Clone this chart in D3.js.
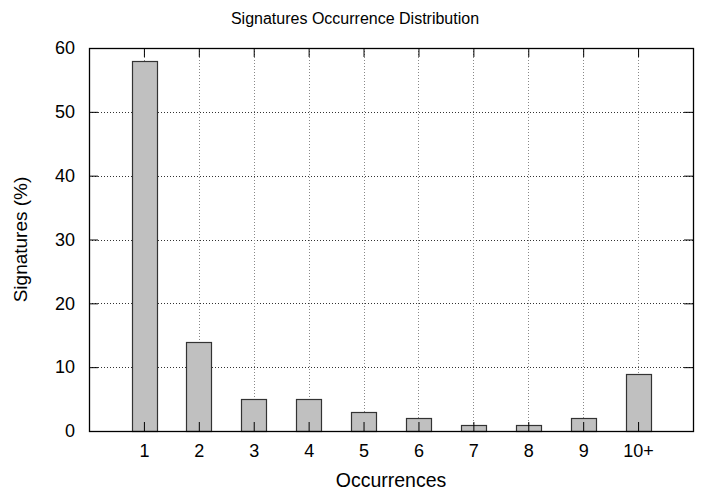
<!DOCTYPE html>
<html>
<head>
<meta charset="utf-8">
<script src="https://cdn.jsdelivr.net/npm/d3@7"></script>
<style>
  body { margin: 0; background: #fff; }
  text { font-family: "Liberation Sans", Arial, sans-serif; fill: #000; }
</style>
</head>
<body>
<div id="chart"></div>
<script>
// Data
var categories = ["1", "2", "3", "4", "5", "6", "7", "8", "9", "10+"];
var percents = [58, 14, 5, 5, 3, 2, 1, 1, 2, 9];
var yTicks = [0, 10, 20, 30, 40, 50, 60];

var svgWidth = 710;
var svgHeight = 491;

// Plot area
var m = { top: 48, right: 17, bottom: 60, left: 89 };
var cW = svgWidth - m.left - m.right;
var cH = svgHeight - m.top - m.bottom;

var svg = d3.select("#chart").append("svg")
  .attr("width", svgWidth)
  .attr("height", svgHeight);

var g = svg.append("g")
  .attr("transform", `translate(${m.left}, ${m.top})`);

// x positions are 1..10, domain padded by one slot each side
var xScale = d3.scaleLinear().domain([0, categories.length + 1]).range([0, cW]);
var yScale = d3.scaleLinear().domain([0, 60]).range([cH, 0]);
var barW = xScale(0.45) - xScale(0);

// Grid lines
g.selectAll(".hgrid")
  .data(yTicks.slice(1, -1)).enter()
  .append("line")
  .attr("x1", 0).attr("x2", cW)
  .attr("y1", d => Math.round(yScale(d)) + 0.5).attr("y2", d => Math.round(yScale(d)) + 0.5)
  .attr("stroke", "#333")
  .attr("stroke-width", 1)
  .attr("stroke-dasharray", "1,2");

g.selectAll(".vgrid")
  .data(categories).enter()
  .append("line")
  .attr("x1", (d, i) => Math.round(xScale(i + 1)) + 0.5)
  .attr("x2", (d, i) => Math.round(xScale(i + 1)) + 0.5)
  .attr("y1", 0).attr("y2", cH)
  .attr("stroke", "#888")
  .attr("stroke-width", 1)
  .attr("stroke-dasharray", "1,2");

// Bars
g.selectAll("rect.bar")
  .data(percents).enter()
  .append("rect")
  .attr("class", "bar")
  .attr("x", (d, i) => Math.round(xScale(i + 1) - barW / 2) + 0.5)
  .attr("y", d => Math.round(yScale(d)) + 0.5)
  .attr("width", Math.round(barW))
  .attr("height", d => cH - Math.round(yScale(d)))
  .attr("fill", "#c0c0c0")
  .attr("stroke", "#333")
  .attr("stroke-width", 1.2);

// Axes (ticks drawn inward, mirrored)
var tickPos = categories.map((d, i) => i + 1);

var leftAxis = d3.axisLeft(yScale).tickValues(yTicks).tickSize(-9).tickPadding(14);
var gl = g.append("g").call(leftAxis);
gl.select(".domain").remove();
gl.selectAll("text").style("font-size", "18px");

var rightAxis = d3.axisRight(yScale).tickValues(yTicks).tickSize(-9).tickFormat("");
var gr = g.append("g").attr("transform", `translate(${cW}, 0)`).call(rightAxis);
gr.select(".domain").remove();

var bottomAxis = d3.axisBottom(xScale).tickValues(tickPos).tickSize(-9).tickPadding(13)
  .tickFormat(d => categories[d - 1]);
var gb = g.append("g").attr("transform", `translate(0, ${cH})`).call(bottomAxis);
gb.select(".domain").remove();
gb.selectAll("text").style("font-size", "18px");

var topAxis = d3.axisTop(xScale).tickValues(tickPos).tickSize(-9).tickFormat("");
var gt = g.append("g").call(topAxis);
gt.select(".domain").remove();

// Border
g.append("rect")
  .attr("x", 0.5).attr("y", 0.5)
  .attr("width", cW).attr("height", cH)
  .attr("fill", "none")
  .attr("stroke", "#000")
  .attr("stroke-width", 1.3);

// Labels
svg.append("text")
  .attr("x", 355).attr("y", 24)
  .attr("text-anchor", "middle")
  .style("font-size", "16px")
  .text("Signatures Occurrence Distribution");

svg.append("text")
  .attr("x", m.left + cW / 2).attr("y", 487)
  .attr("text-anchor", "middle")
  .style("font-size", "19.5px")
  .text("Occurrences");

svg.append("text")
  .attr("transform", `translate(27, ${m.top + cH / 2}) rotate(-90)`)
  .attr("text-anchor", "middle")
  .style("font-size", "19px")
  .text("Signatures (%)");
</script>
</body>
</html>
